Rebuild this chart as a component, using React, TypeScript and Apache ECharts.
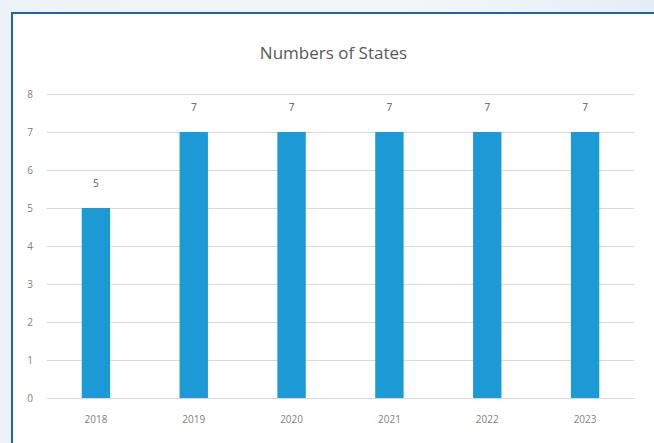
import React, { useEffect, useRef } from "react";
import * as echarts from "echarts";

const categories = ["2018", "2019", "2020", "2021", "2022", "2023"];
const values = [5, 7, 7, 7, 7, 7];
const titleText = "Numbers of States";

export default function App() {
  const ref = useRef<HTMLDivElement>(null);
  useEffect(() => {
    if (!ref.current) return;
    const chart = echarts.init(ref.current, null, { renderer: "svg" });
    chart.setOption({
      animation: false,
      backgroundColor: "#ffffff",
      title: {
        text: titleText,
        left: "center",
        top: 25,
        textStyle: { fontFamily: "Open Sans", fontSize: 17, fontWeight: "normal", color: "#595959" },
      },
      grid: { left: 34, right: 20, top: 80, bottom: 45 },
      xAxis: {
        type: "category",
        data: categories,
        axisLine: { lineStyle: { color: "#d9d9d9" } },
        axisTick: { show: false },
        axisLabel: { color: "#7f7f7f", fontSize: 10, fontFamily: "Open Sans", margin: 16 },
      },
      yAxis: {
        type: "value",
        min: 0,
        max: 8,
        interval: 1,
        axisLine: { show: false },
        axisTick: { show: false },
        axisLabel: { color: "#7f7f7f", fontSize: 10, fontFamily: "Open Sans", margin: 14 },
        splitLine: { lineStyle: { color: "#d9d9d9" } },
      },
      series: [
        {
          type: "bar",
          data: values,
          barWidth: "29%",
          itemStyle: { color: "#1b9ad6" },
          label: { show: true, position: "top", color: "#595959", fontSize: 10, fontFamily: "Open Sans", distance: 20 },
        },
      ],
    });
    return () => chart.dispose();
  }, []);
  return (
    <div style={{ position: "fixed", left: 0, top: 0, width: 654, height: 443, background: "linear-gradient(90deg, #edf2f6 0%, #f3f6f9 60%, #e6eef5 100%)", overflow: "hidden" }}>
      <div style={{ position: "absolute", left: 11, top: 12, width: 660, height: 450, border: "2px solid #1a63b8", background: "#ffffff", boxSizing: "border-box" }}>
        <div ref={ref} style={{ position: "absolute", left: 0, top: 0, width: 641, height: 429 }} />
      </div>
    </div>
  );
}
